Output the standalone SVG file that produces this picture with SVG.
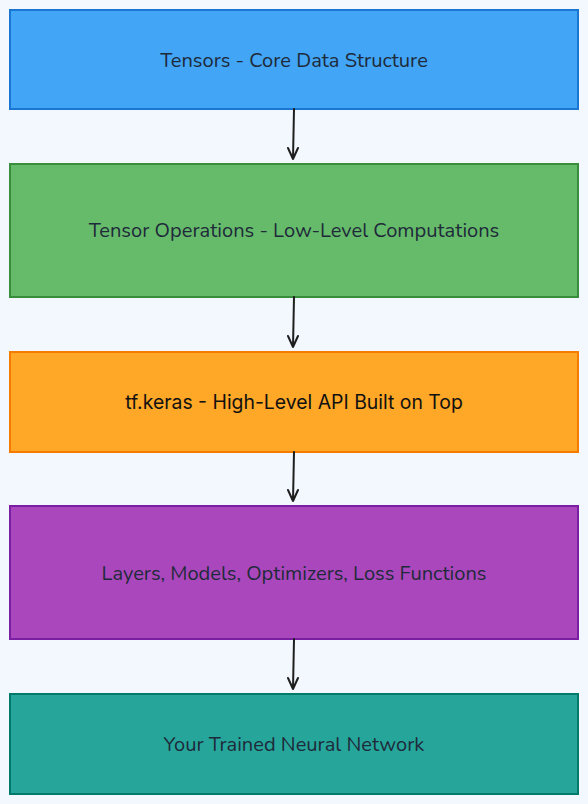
<svg xmlns="http://www.w3.org/2000/svg" width="588" height="804" viewBox="0 0 588 804">
<style>
.box{stroke-width:2}
.lbl{font-family:"Nunito","Lato","Noto Sans",sans-serif;font-size:20.1px;fill:#1e2a3a;text-anchor:middle;dominant-baseline:central}
.lbl2{font-family:"Inter","Noto Sans",sans-serif;font-size:19.4px;fill:#111;text-anchor:middle;dominant-baseline:central}
.edge{stroke:#1e1e1e;stroke-width:2;fill:none;stroke-linecap:round;stroke-linejoin:round}
</style>
<rect width="588" height="804" fill="#f3f7fe"/>
<g id="n1"><rect class="box" x="10" y="10" width="568" height="99" fill="#42a5f5" stroke="#1976d2"/><text class="lbl" x="294" y="60">Tensors - Core Data Structure</text></g>
<g id="n2"><rect class="box" x="10" y="164" width="568" height="133" fill="#66bb6a" stroke="#388e3c"/><text class="lbl" x="294" y="230">Tensor Operations - Low-Level Computations</text></g>
<g id="n3"><rect class="box" x="10" y="352" width="568" height="100" fill="#ffa726" stroke="#f57c00"/><text class="lbl2" x="294" y="402">tf.keras - High-Level API Built on Top</text></g>
<g id="n4"><rect class="box" x="10" y="506" width="568" height="133" fill="#ab47bc" stroke="#7b1fa2"/><text class="lbl" x="294" y="573">Layers, Models, Optimizers, Loss Functions</text></g>
<g id="n5"><rect class="box" x="10" y="694" width="568" height="100" fill="#26a69a" stroke="#00796b"/><text class="lbl" x="294" y="744">Your Trained Neural Network</text></g>
<g id="edges">
<path class="edge" d="M294 109 L293 159 M288 148 L293 159 L298 148"/>
<path class="edge" d="M294 297 L293 347 M288 336 L293 347 L298 336"/>
<path class="edge" d="M294 452 L293 501 M288 490 L293 501 L298 490"/>
<path class="edge" d="M294 639 L293 689 M288 678 L293 689 L298 678"/>
</g>
</svg>
